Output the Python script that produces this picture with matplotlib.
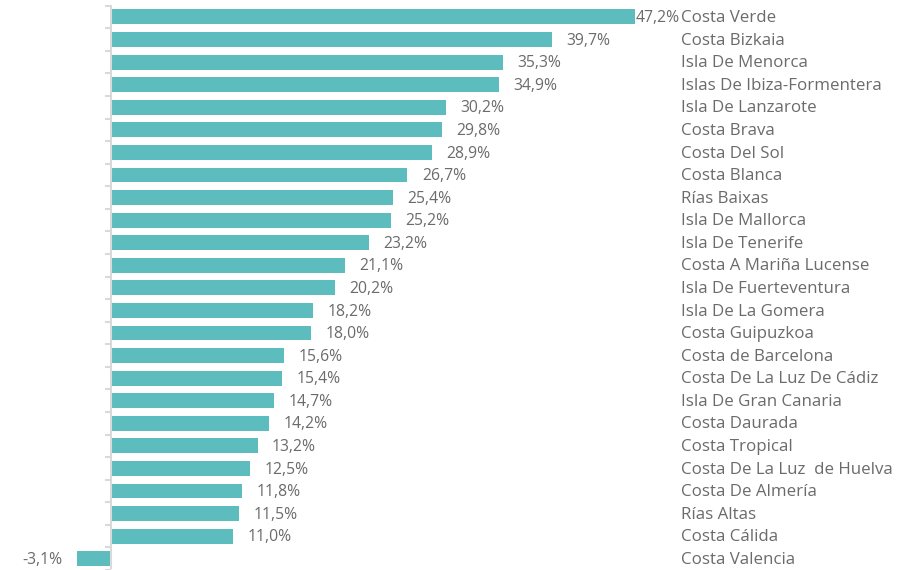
import numpy as np
import matplotlib.pyplot as plt

categories = [
    "Costa Verde", "Costa Bizkaia", "Isla De Menorca", "Islas De Ibiza-Formentera",
    "Isla De Lanzarote", "Costa Brava", "Costa Del Sol", "Costa Blanca",
    "Rías Baixas", "Isla De Mallorca", "Isla De Tenerife", "Costa A Mariña Lucense",
    "Isla De Fuerteventura", "Isla De La Gomera", "Costa Guipuzkoa", "Costa de Barcelona",
    "Costa De La Luz De Cádiz", "Isla De Gran Canaria", "Costa Daurada", "Costa Tropical",
    "Costa De La Luz  de Huelva", "Costa De Almería", "Rías Altas", "Costa Cálida",
    "Costa Valencia",
]
values = [47.2, 39.7, 35.3, 34.9, 30.2, 29.8, 28.9, 26.7, 25.4, 25.2, 23.2, 21.1,
          20.2, 18.2, 18.0, 15.6, 15.4, 14.7, 14.2, 13.2, 12.5, 11.8, 11.5, 11.0, -3.1]

plt.rcParams['font.family'] = ['Open Sans', 'DejaVu Sans']
bar_color = '#5DBCBE'
text_color = '#6b6b6b'

fig = plt.figure(figsize=(9.16, 5.70), dpi=100)
ax = fig.add_axes([0, 0, 1, 1])

y = np.arange(len(values))
ax.barh(y, values, height=0.66, color=bar_color)

ax.set_xlim(-10, 72.5)
ax.set_ylim(24.4, -0.75)

for i, v in enumerate(values):
    label = ("%.1f%%" % v).replace('.', ',')
    if i == 0:
        ax.text(v + 0.05, i + 0.05, label, va='center', ha='left', fontsize=11.3, color=text_color)
    elif v >= 0:
        ax.text(v + 1.3, i + 0.05, label, va='center', ha='left', fontsize=11.3, color=text_color)
    else:
        ax.text(v - 1.3, i + 0.05, label, va='center', ha='right', fontsize=11.3, color=text_color)
    ax.text(0.7435, i + 0.05, categories[i], transform=ax.get_yaxis_transform(),
            va='center', ha='left', fontsize=12.2, color=text_color)

for s in ['top', 'right', 'bottom']:
    ax.spines[s].set_visible(False)
ax.spines['left'].set_position(('data', 0))
ax.spines['left'].set_color('#d9d9d9')
ax.spines['left'].set_linewidth(1.5)
ax.spines['left'].set_bounds(-0.5, 24.4)

ax.set_xticks([])
ax.set_yticks(np.arange(-0.5, len(values), 1.0))
ax.set_yticklabels([])
ax.tick_params(axis='y', length=4, width=1.5, color='#d9d9d9')

fig.savefig('out.png', dpi=100)
